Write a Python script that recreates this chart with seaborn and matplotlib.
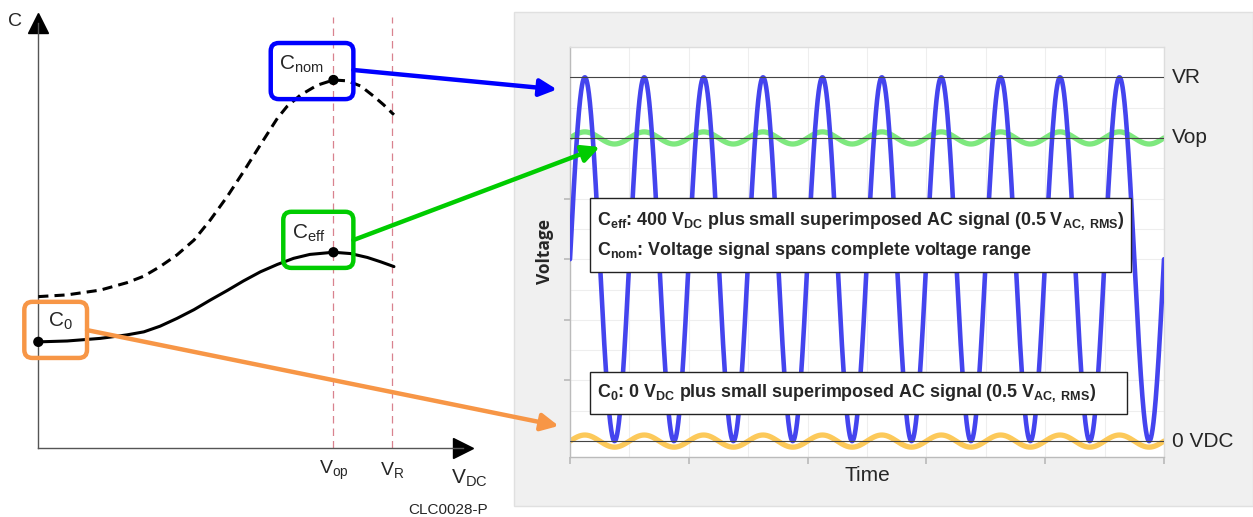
import numpy as np
import pandas as pd
import seaborn as sns
import matplotlib
matplotlib.use("Agg")
import matplotlib.pyplot as plt
from matplotlib.patches import FancyBboxPatch, Rectangle, ConnectionPatch
from matplotlib import font_manager

# ---------------- data ----------------
# Left panel: capacitance vs DC bias (arbitrary units)
v_op = 400.0
v_r = 480.0
cnom_v = [0, 39, 84, 120, 143, 165, 188, 211, 233, 256, 278, 301, 324, 337, 355, 378, 400, 419, 437, 455, 468, 482]
cnom_c = [34.8, 35.2, 36.3, 38.0, 39.5, 41.7, 44.4, 47.8, 52.4, 57.8, 63.5, 69.7, 75.8, 78.5, 81.1, 83.4, 84.6, 84.4, 83.2, 80.8, 78.9, 76.6]
ceff_v = [0, 39, 84, 120, 143, 165, 188, 211, 233, 256, 278, 301, 324, 346, 368, 400, 423, 446, 464, 482]
ceff_c = [24.4, 24.6, 25.2, 26.0, 26.7, 28.0, 29.8, 31.8, 34.0, 36.2, 38.4, 40.5, 42.2, 43.6, 44.5, 45.0, 44.7, 43.8, 42.8, 41.7]
marker_v = [0, v_op, v_op]
marker_c = [24.4, 45.0, 84.6]

# Right panel: applied test signals
n_cycles = 10
ac_amp = 8.0           # small superimposed AC amplitude (exaggerated)
v_levels = [0.0, v_op, v_r]
level_labels = ["0 VDC", "Vop", "VR"]

t = np.linspace(0, n_cycles, 4001)
phase = np.sin(2 * np.pi * t)
sig = pd.DataFrame({
    "t": t,
    "nom": v_r / 2 + v_r / 2 * phase,
    "eff": v_op + ac_amp * phase,
    "c0": 0.0 + ac_amp * phase,
})

# ---------------- fonts ----------------
sns.set_theme(style="white")
names = {f.name for f in font_manager.fontManager.ttflist}
narrow = "Liberation Sans Narrow" if "Liberation Sans Narrow" in names else "Liberation Sans"
plt.rcParams["font.family"] = ["Liberation Sans", "DejaVu Sans"]
plt.rcParams["mathtext.fontset"] = "custom"
plt.rcParams["mathtext.rm"] = "Liberation Sans"
plt.rcParams["mathtext.it"] = "Liberation Sans:italic"
plt.rcParams["mathtext.bf"] = narrow + ":bold"

W, H = 1253, 517
fig = plt.figure(figsize=(W / 100, H / 100), dpi=100)
fig.patch.set_facecolor("white")

# ---------------- right panel background ----------------
fig.add_artist(Rectangle((514 / W, 1 - 506 / H), (W - 514) / W, (506 - 12) / H,
                         transform=fig.transFigure, facecolor="#f0f0f0",
                         edgecolor="#e0e0e0", lw=1, zorder=-5))

# ---------------- left panel ----------------
axL = fig.add_axes([38.33 / W, (517 - 448) / H, (463.3 - 38.33) / W, (448 - 23) / H])
axL.set_xlim(0, 576)
axL.set_ylim(0, 97.7)
axL.patch.set_alpha(0)
for s in ["top", "right"]:
    axL.spines[s].set_visible(False)
for s in ["left", "bottom"]:
    axL.spines[s].set_color("#555555")
    axL.spines[s].set_linewidth(1.0)
axL.set_xticks([])
axL.set_yticks([])
axL.plot([0], [1], marker="^", color="black", ms=14, transform=axL.transAxes, clip_on=False)
axL.plot([1], [0], marker=">", color="black", ms=14, transform=axL.transAxes, clip_on=False)

for vv in [v_op, v_r]:
    axL.plot([vv, vv], [0, 99], color="#d9828f", lw=0.9, ls=(0, (6, 4)), clip_on=False, zorder=1)

sns.lineplot(x=cnom_v, y=cnom_c, ax=axL, color="black", lw=2.2, sort=False, zorder=3)
axL.lines[-1].set_linestyle((0, (3.3, 2.0)))
sns.lineplot(x=ceff_v, y=ceff_c, ax=axL, color="black", lw=2.2, sort=False, zorder=3)
sns.scatterplot(x=marker_v, y=marker_c, ax=axL, color="black", s=55, zorder=4, clip_on=False, edgecolor="none")

pxx = (463.3 - 38.33) / 576.0   # px per V
pxy = (448 - 23) / 97.7         # px per C unit
asp = pxx / pxy

def lbox(x0, x1, y0, y1, color):
    p = FancyBboxPatch((x0, y0), x1 - x0, y1 - y0,
                       boxstyle="round,pad=0,rounding_size=11",
                       mutation_aspect=asp, fc="none", ec=color, lw=3.2,
                       clip_on=False, zorder=5)
    axL.add_patch(p)

lbox(315, 427, 80.2, 93.1, "#0000ff")
lbox(332, 427, 41.4, 54.3, "#00cc00")
lbox(-19, 66, 20.7, 33.6, "#f79646")

axL.text(326, 88.1, r"$\mathrm{C_{nom}}$", fontsize=15, va="center", ha="left")
axL.text(344, 49.3, r"$\mathrm{C_{eff}}$", fontsize=15, va="center", ha="left")
axL.text(13, 29.2, r"$\mathrm{C_{0}}$", fontsize=15, va="center", ha="left")
axL.text(-41, 98, "C", fontsize=14, va="center", ha="left")
axL.annotate(r"$\mathrm{V_{op}}$", xy=(v_op, 0), xytext=(0, -16), textcoords="offset points",
             ha="center", va="center", fontsize=14)
axL.annotate(r"$\mathrm{V_{R}}$", xy=(v_r, 0), xytext=(0, -16), textcoords="offset points",
             ha="center", va="center", fontsize=14)
axL.annotate(r"$\mathrm{V_{DC}}$", xy=(576, 0), xytext=(4, -22), textcoords="offset points",
             ha="center", va="center", fontsize=15)
axL.annotate("CLC0028-P", xy=(576, 0), xytext=(-11, -45), textcoords="offset points",
             ha="center", va="center", fontsize=11)

# ---------------- right panel ----------------
axR = fig.add_axes([570 / W, (517 - 457) / H, 594 / W, 410 / H])
axR.set_facecolor("white")
axR.set_xlim(0, n_cycles)
axR.set_ylim(-21, 520)
axR.set_xticks(np.arange(0, n_cycles + 1, 2))
axR.set_xticks(np.arange(0, n_cycles + 1, 1), minor=True)
axR.set_yticks(np.arange(80, 400, 80))
axR.set_yticks(np.arange(0, 521, 40), minor=True)
axR.set_xticklabels([])
axR.set_yticklabels([])
axR.tick_params(axis="x", which="major", direction="out", length=5, color="#bbbbbb", bottom=True)
axR.tick_params(axis="x", which="minor", length=0)
axR.tick_params(axis="y", which="major", direction="out", length=4, color="#bbbbbb", left=True)
axR.tick_params(axis="y", which="minor", length=0)
axR.grid(True, which="both", color="#eeeeee", lw=0.8)
axR.set_axisbelow(True)
for s in axR.spines.values():
    s.set_color("#dddddd")
    s.set_linewidth(1.0)
axR.spines["left"].set_color("#bbbbbb")
axR.spines["bottom"].set_color("#bbbbbb")

sns.lineplot(data=sig, x="t", y="eff", ax=axR, color="#7ee87e", lw=3.8, zorder=2)
sns.lineplot(data=sig, x="t", y="c0", ax=axR, color="#fcc95a", lw=3.8, zorder=2)
sns.lineplot(data=sig, x="t", y="nom", ax=axR, color="#4444ee", lw=3.3, zorder=3)
for lv in v_levels:
    axR.axhline(lv, color="#444444", lw=0.8, zorder=4)
for lv, lab in zip(v_levels, level_labels):
    axR.annotate(lab, xy=(1, lv), xycoords=("axes fraction", "data"), xytext=(6, 0),
                 textcoords="offset points", ha="left", va="center", fontsize=15,
                 family=[narrow, "DejaVu Sans"])

axR.set_xlabel("Time", fontsize=15, family=[narrow, "DejaVu Sans"], labelpad=-2)
axR.set_ylabel("Voltage", fontsize=12.5, fontweight="bold", family=["Open Sans", "DejaVu Sans"], labelpad=4)

def rbox(x0, x1, y0, y1):
    axR.add_patch(Rectangle((x0, y0), x1 - x0, y1 - y0, fc="white", ec="#222222", lw=1.0, zorder=6))

rbox(0.34, 9.44, 223, 320.6)
rbox(0.34, 9.38, 35.6, 91)
tkw = dict(fontsize=12.9, fontweight="bold", family=[narrow, "DejaVu Sans"], ha="left", va="center", zorder=7)
axR.text(0.46, 290, r"$\mathbf{C_{eff}}$: 400 $\mathbf{V_{DC}}$ plus small superimposed AC signal (0.5 $\mathbf{V_{AC,\ RMS}}$)", **tkw)
axR.text(0.46, 252, r"$\mathbf{C_{nom}}$: Voltage signal spans complete voltage range", **tkw)
axR.text(0.46, 64, r"$\mathbf{C_{0}}$: 0 $\mathbf{V_{DC}}$ plus small superimposed AC signal (0.5 $\mathbf{V_{AC,\ RMS}}$)", **tkw)

# ---------------- connecting arrows ----------------
def link(xyA, xyB, color):
    cp = ConnectionPatch(xyA=xyA, coordsA=axL.transData, xyB=xyB, coordsB=axR.transData,
                         arrowstyle="-|>", mutation_scale=26, color=color, lw=3.2,
                         shrinkA=0, shrinkB=0, zorder=10)
    fig.add_artist(cp)

link((427, 86.9), (-0.22, 464), "#0000ff")
link((427, 47.8), (0.5, 388), "#00cc00")
link((66, 27.1), (-0.19, 20), "#f79646")

fig.savefig("out.png", dpi=100)
